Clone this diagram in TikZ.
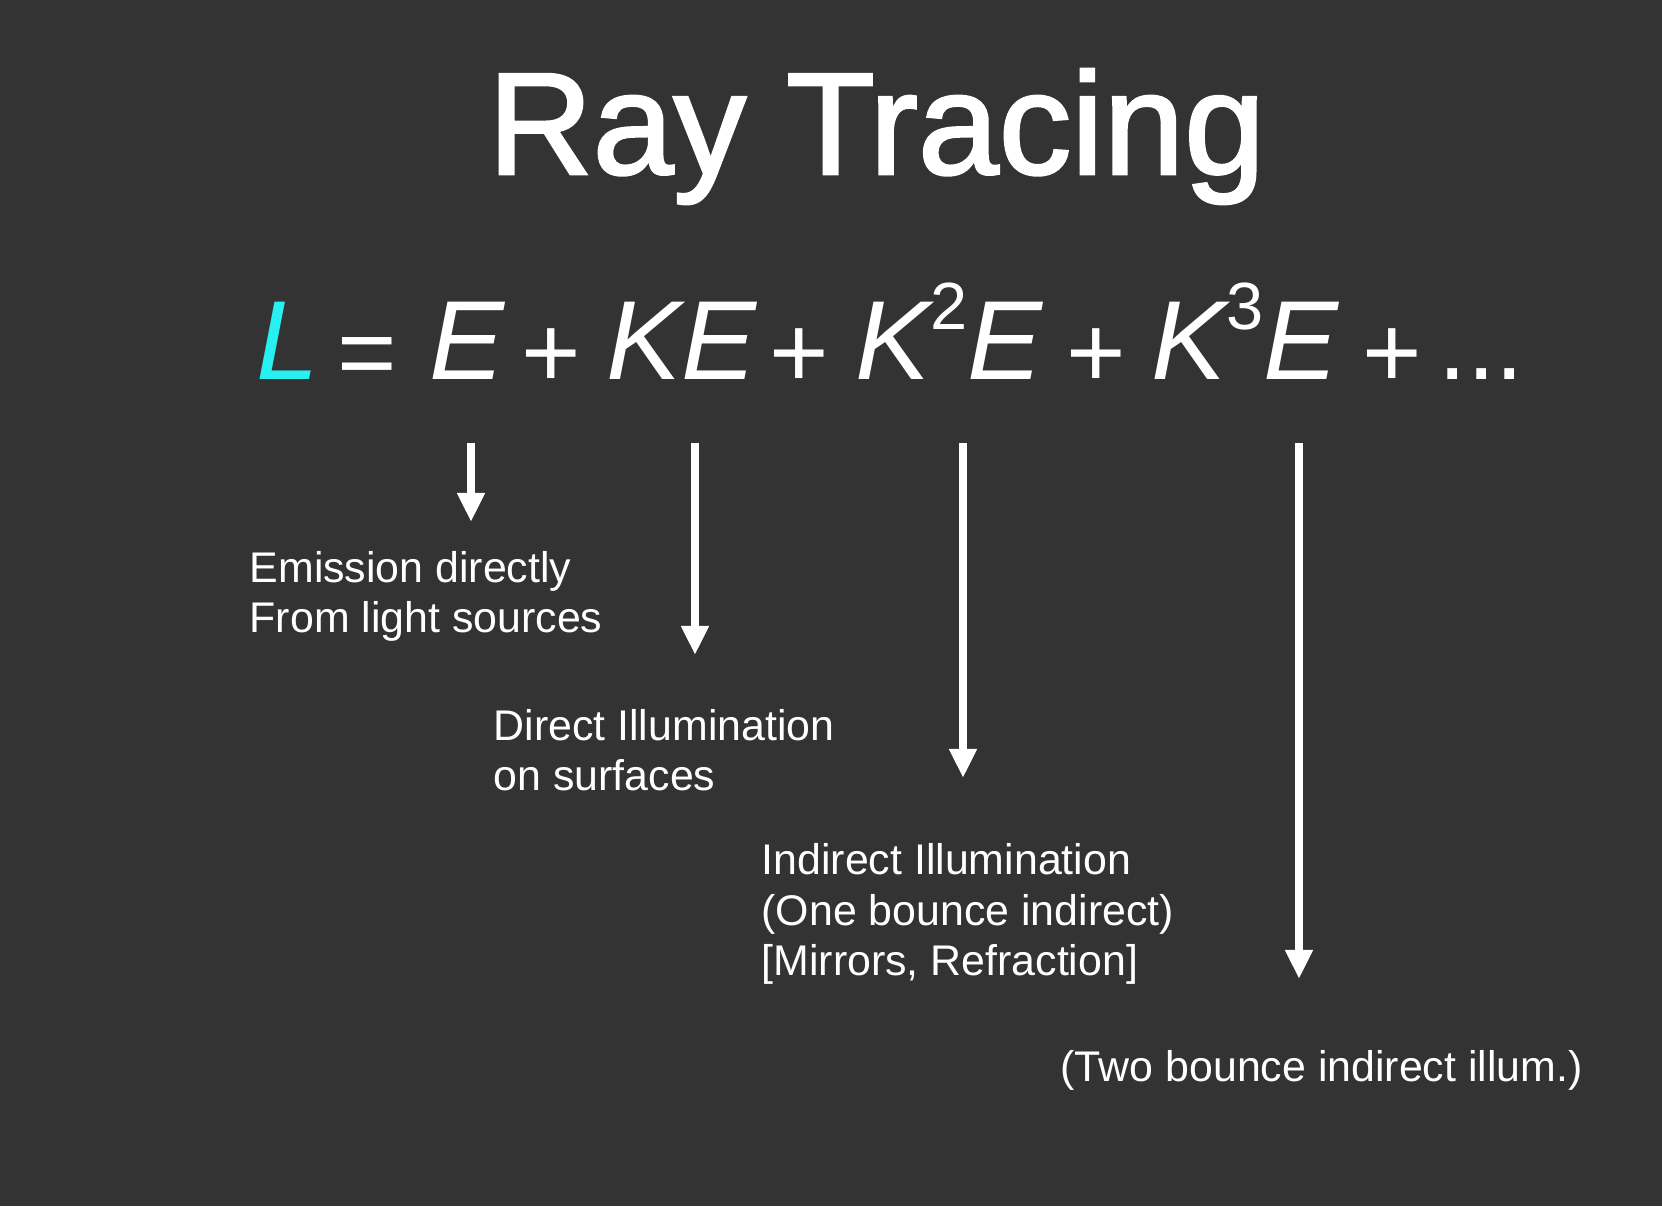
\documentclass[tikz,border=0pt]{standalone}
\usepackage{fontspec}
\setmainfont{Liberation Sans}
\newfontfamily\titlefont[FakeBold=1.8]{Liberation Sans}
\usetikzlibrary{arrows.meta}
\definecolor{slate}{RGB}{51,51,51}
\definecolor{aqua}{RGB}{38,240,240}
\tikzset{
    term/.style={anchor=base west, inner sep=0pt, text=white, font=\fontsize{32}{32}\selectfont\itshape},
    op/.style={anchor=base west, inner sep=0pt, text=white, font=\fontsize{29}{29}\selectfont},
    note/.style={anchor=base west, inner sep=0pt, text=white, align=left, font=\fontsize{12.2}{14.5}\selectfont},
    ray/.style={draw=white, line width=2.4pt, -{Triangle[width=2.6mm,length=2.9mm]}}
}
\newcommand{\pw}[1]{\raisebox{0.5cm}{\upshape\fontsize{19}{19}\selectfont #1}}

\begin{document}
\begin{tikzpicture}
    % Background
    \fill[slate] (0,0) rectangle (16.62,12.06);
    \useasboundingbox (0,0) rectangle (16.62,12.06);

    % Title
    \node[anchor=base, inner sep=0pt, text=white, font=\fontsize{41.3}{41.3}\titlefont] (title) at (8.765,10.32) {Ray Tracing};

    % Equation terms
    \node[term, text=aqua] (lhs) at (2.56,8.26) {L};
    \node[op] (eq) at (3.37,8.18) {=};
    \node[term] (t0) at (4.29,8.26) {E};
    \node[op] (p1) at (5.21,8.18) {+};
    \node[term] (t1) at (6.06,8.26) {KE};
    \node[op] (p2) at (7.69,8.18) {+};
    \node[term] (t2) at (8.55,8.26) {K\pw{2}E};
    \node[op] (p3) at (10.66,8.18) {+};
    \node[term] (t3) at (11.51,8.26) {K\pw{3}E};
    \node[op] (p4) at (13.62,8.18) {+};
    \node[op] (dots) at (14.38,8.26) {...};

    % Arrow ends
    \coordinate (r0s) at (4.71,7.63);
    \coordinate (r0e) at (4.71,6.84);
    \coordinate (r1s) at (6.95,7.63);
    \coordinate (r1e) at (6.95,5.51);
    \coordinate (r2s) at (9.63,7.63);
    \coordinate (r2e) at (9.63,4.28);
    \coordinate (r3s) at (12.99,7.63);
    \coordinate (r3e) at (12.99,2.27);

    % Labels (anchored at the last line)
    \node[note] (emis) at (2.49,5.73) {Emission directly\\From light sources};
    \node[note] (direct) at (4.93,4.15) {Direct Illumination\\on surfaces};
    \node[note] (indirect) at (7.61,2.30) {Indirect Illumination\\(One bounce indirect)\\{[Mirrors, Refraction]}};
    \node[note] (two) at (10.60,1.25) {(Two bounce indirect illum.)};

    % Draw arrows
    \draw[ray] (r0s) -- (r0e);
    \draw[ray] (r1s) -- (r1e);
    \draw[ray] (r2s) -- (r2e);
    \draw[ray] (r3s) -- (r3e);
\end{tikzpicture}
\end{document}
